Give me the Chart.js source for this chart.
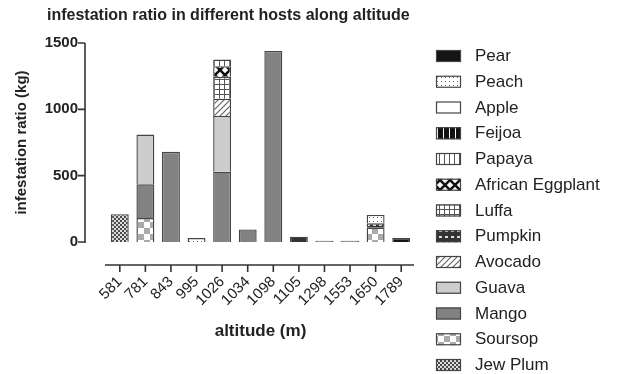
<!DOCTYPE html>
<html>
<head>
<meta charset="utf-8">
<script src="https://cdn.jsdelivr.net/npm/chart.js@4.4.1/dist/chart.umd.min.js"></script>
<style>
  html, body { margin: 0; padding: 0; background: #fff; }
  canvas { display: block; }
</style>
</head>
<body>
<canvas id="chart" width="623" height="374"></canvas>
<script>
// altitude categories (m)
const altitudes = ["581", "781", "843", "995", "1026", "1034", "1098", "1105", "1298", "1553", "1650", "1789"];

// infestation ratio (kg) per host, stacked bottom -> top
const jewPlum         = [210, 0, 0, 0, 0, 0, 0, 0, 0, 0, 0, 0];
const soursop         = [0, 180, 0, 0, 0, 0, 0, 0, 0, 0, 108, 0];
const mango           = [0, 255, 680, 0, 530, 95, 1440, 0, 10, 10, 0, 0];
const guava           = [0, 375, 0, 0, 420, 0, 0, 0, 0, 0, 0, 0];
const avocado         = [0, 0, 0, 0, 130, 0, 0, 0, 0, 0, 0, 0];
const pumpkin         = [0, 0, 0, 0, 0, 0, 0, 40, 0, 0, 33, 0];
const luffa           = [0, 0, 0, 0, 165, 0, 0, 0, 0, 0, 0, 0];
const africanEggplant = [0, 0, 0, 0, 80, 0, 0, 0, 0, 0, 0, 0];
const papaya          = [0, 0, 0, 0, 50, 0, 0, 0, 0, 0, 0, 0];
const feijoa          = [0, 0, 0, 0, 0, 0, 0, 0, 0, 0, 0, 0];
const apple           = [0, 0, 0, 0, 0, 0, 0, 0, 0, 0, 0, 0];
const peach           = [0, 0, 0, 30, 0, 0, 0, 0, 0, 0, 63, 0];
const pear            = [0, 0, 0, 0, 0, 0, 0, 0, 0, 0, 0, 30];

const yTicks = [0, 500, 1000, 1500];

const FONT = "'Liberation Sans', Arial, Helvetica, sans-serif";
const INK = "#222";

// small tile patterns like the prism fills
function tile(w, h, paint) {
  const c = document.createElement("canvas");
  c.width = w; c.height = h;
  const g = c.getContext("2d");
  paint(g, w, h);
  return g.createPattern(c, "repeat");
}

const fills = {
  pear: "#151515",
  peach: tile(4, 4, (g) => { g.fillStyle = "#fff"; g.fillRect(0, 0, 4, 4); g.fillStyle = "#666"; g.fillRect(1, 1, 1, 1); }),
  apple: "#ffffff",
  feijoa: tile(6, 6, (g) => { g.fillStyle = "#111"; g.fillRect(0, 0, 6, 6); g.fillStyle = "#fff"; g.fillRect(5, 0, 1, 6); }),
  papaya: tile(5, 5, (g) => { g.fillStyle = "#fff"; g.fillRect(0, 0, 5, 5); g.fillStyle = "#555"; g.fillRect(4, 0, 1, 5); }),
  africanEggplant: tile(10, 10, (g) => {
    g.fillStyle = "#fff"; g.fillRect(0, 0, 10, 10);
    g.strokeStyle = "#111"; g.lineWidth = 2.5;
    g.beginPath(); g.moveTo(0, 0); g.lineTo(10, 10); g.moveTo(10, 0); g.lineTo(0, 10); g.stroke();
  }),
  luffa: tile(5, 5, (g) => { g.fillStyle = "#fff"; g.fillRect(0, 0, 5, 5); g.fillStyle = "#555"; g.fillRect(4, 0, 1, 5); g.fillRect(0, 4, 5, 1); }),
  pumpkin: tile(6, 6, (g) => { g.fillStyle = "#333"; g.fillRect(0, 0, 6, 6); g.fillStyle = "#ddd"; g.fillRect(1, 2, 3, 2); }),
  avocado: tile(6, 6, (g) => {
    g.fillStyle = "#fff"; g.fillRect(0, 0, 6, 6);
    g.strokeStyle = "#666"; g.lineWidth = 1.2;
    g.beginPath(); g.moveTo(0, 6); g.lineTo(6, 0); g.moveTo(-1, 1); g.lineTo(1, -1); g.moveTo(5, 7); g.lineTo(7, 5); g.stroke();
  }),
  guava: "#cdcdcd",
  mango: "#828282",
  soursop: tile(12, 12, (g) => { g.fillStyle = "#fff"; g.fillRect(0, 0, 12, 12); g.fillStyle = "#aaa"; g.fillRect(0, 0, 6, 6); g.fillRect(6, 6, 6, 6); }),
  jewPlum: tile(4, 4, (g) => { g.fillStyle = "#ddd"; g.fillRect(0, 0, 4, 4); g.fillStyle = "#4a4a4a"; g.fillRect(0, 0, 2, 2); g.fillRect(2, 2, 2, 2); }),
};

const series = [
  ["Jew Plum", jewPlum, fills.jewPlum],
  ["Soursop", soursop, fills.soursop],
  ["Mango", mango, fills.mango],
  ["Guava", guava, fills.guava],
  ["Avocado", avocado, fills.avocado],
  ["Pumpkin", pumpkin, fills.pumpkin],
  ["Luffa", luffa, fills.luffa],
  ["African Eggplant", africanEggplant, fills.africanEggplant],
  ["Papaya", papaya, fills.papaya],
  ["Feijoa", feijoa, fills.feijoa],
  ["Apple", apple, fills.apple],
  ["Peach", peach, fills.peach],
  ["Pear", pear, fills.pear],
];

// prism style: detached axes, title and legend drawn by hand
const prismExtras = {
  id: "prismExtras",
  afterDraw(chart) {
    const { ctx, chartArea, scales } = chart;
    const x = scales.x, y = scales.y;
    ctx.save();
    ctx.strokeStyle = "#333";
    ctx.lineWidth = 1.6;

    // y axis line + ticks
    const yx = chartArea.left - 22;
    ctx.beginPath();
    ctx.moveTo(yx, y.getPixelForValue(0) + 1);
    ctx.lineTo(yx, y.getPixelForValue(1500));
    yTicks.forEach((v) => {
      const py = y.getPixelForValue(v);
      ctx.moveTo(yx - 7, py);
      ctx.lineTo(yx, py);
    });
    ctx.stroke();

    // x axis line + ticks
    const xy = chartArea.bottom + 23;
    ctx.beginPath();
    ctx.moveTo(chartArea.left - 2, xy);
    ctx.lineTo(chartArea.right, xy);
    altitudes.forEach((_, i) => {
      const px = x.getPixelForValue(i);
      ctx.moveTo(px, xy);
      ctx.lineTo(px, xy + 7);
    });
    ctx.stroke();

    // title
    ctx.fillStyle = INK;
    ctx.font = "bold 16px " + FONT;
    ctx.textAlign = "left";
    ctx.textBaseline = "alphabetic";
    ctx.fillText("infestation ratio in different hosts along altitude", 47, 20);

    // legend, top item = last stacked series
    ctx.font = "17px " + FONT;
    ctx.textBaseline = "middle";
    const items = chart.data.datasets.slice().reverse();
    items.forEach((ds, i) => {
      const top = 50 + i * 25.75;
      ctx.fillStyle = ds.backgroundColor;
      ctx.fillRect(436, top, 25, 12);
      ctx.lineWidth = 1.2;
      ctx.strokeStyle = "#444";
      ctx.strokeRect(436.5, top + 0.5, 24, 11);
      ctx.fillStyle = INK;
      ctx.fillText(ds.label, 475, top + 6.5);
    });
    ctx.restore();
  },
};

Chart.defaults.font.family = FONT;
Chart.defaults.color = INK;

new Chart(document.getElementById("chart"), {
  type: "bar",
  data: {
    labels: altitudes,
    datasets: series.map(([label, data, fill]) => ({
      label,
      data,
      backgroundColor: fill,
      borderColor: "#444",
      borderWidth: 1.4,
      categoryPercentage: 1,
      barPercentage: 0.7,
    })),
  },
  options: {
    responsive: false,
    animation: false,
    devicePixelRatio: 1,
    layout: { padding: { top: 43, right: 209, bottom: 0, left: 0 } },
    plugins: {
      legend: { display: false },
      tooltip: { enabled: false },
      title: { display: false },
    },
    scales: {
      x: {
        stacked: true,
        grid: { display: false, drawTicks: false },
        border: { display: false },
        ticks: { autoSkip: false, minRotation: 45, maxRotation: 45, padding: 31, font: { size: 15 } },
        title: { display: true, text: "altitude (m)", font: { size: 17, weight: "bold" }, padding: { top: 0, bottom: 32 } },
        afterFit: (s) => { s.height = 132; },
      },
      y: {
        stacked: true,
        min: 0,
        max: 1500,
        grid: { display: false, drawTicks: false },
        border: { display: false },
        ticks: { stepSize: 500, padding: 29, font: { size: 15, weight: "bold" }, callback: (v) => String(v) },
        title: { display: true, text: "infestation ratio (kg)", font: { size: 15, weight: "bold" }, padding: { top: 13, bottom: 0 } },
        afterFit: (s) => { s.width = 107; },
      },
    },
  },
  plugins: [prismExtras],
});
</script>
</body>
</html>
